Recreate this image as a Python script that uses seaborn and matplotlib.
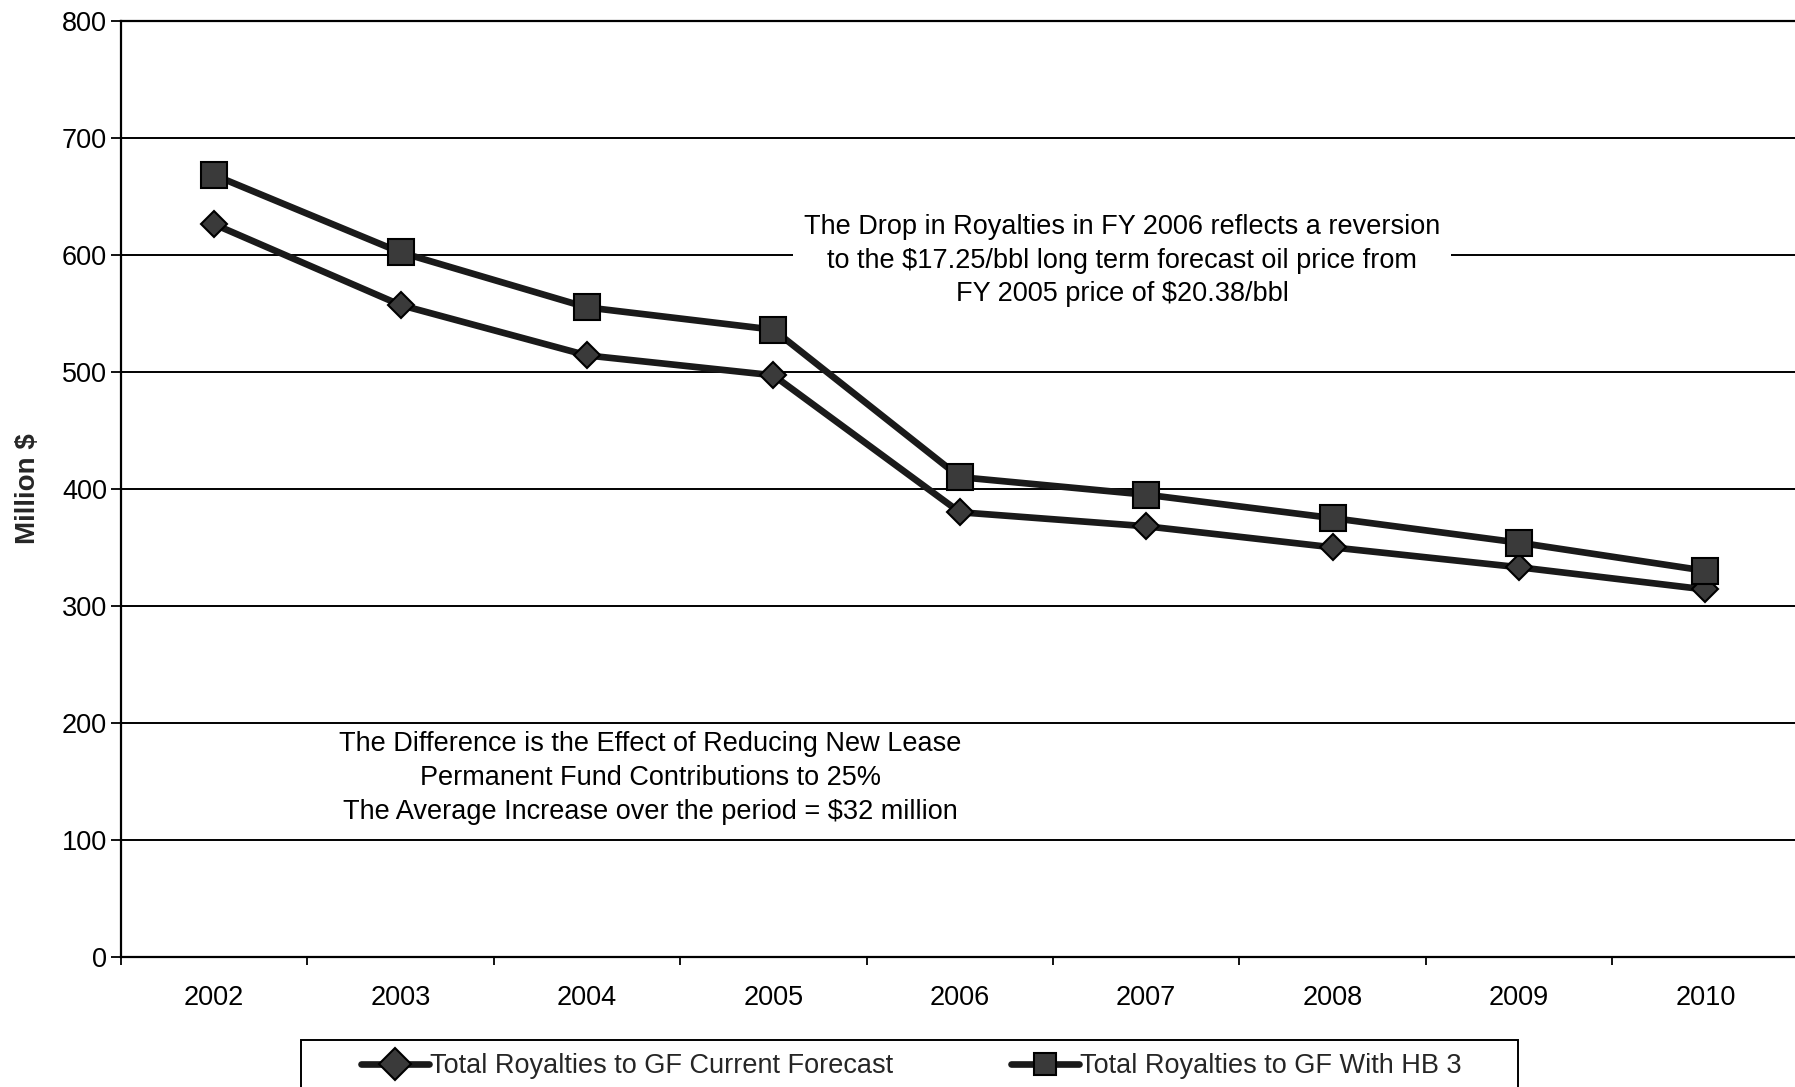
import matplotlib
matplotlib.use("Agg")
import matplotlib.pyplot as plt
import seaborn as sns
import pandas as pd
from matplotlib.patches import Rectangle
from matplotlib.ticker import FixedLocator

# Fiscal years and royalty forecasts (million $)
years = ["2002", "2003", "2004", "2005", "2006", "2007", "2008", "2009", "2010"]
current_forecast = [626, 557, 514, 497, 380, 368, 350, 333, 314]
with_hb3 = [668, 602, 555, 536, 410, 395, 375, 354, 330]
series_names = ["Total Royalties to GF Current Forecast", "Total Royalties to GF With HB 3"]
y_ticks = [0, 100, 200, 300, 400, 500, 600, 700, 800]

df = pd.DataFrame({
    "Year": years * 2,
    "Value": current_forecast + with_hb3,
    "Series": [series_names[0]] * len(years) + [series_names[1]] * len(years),
})

sns.set_theme(style="white")
plt.rcParams["font.family"] = ["Liberation Sans", "DejaVu Sans"]
FS = 19.5

fig = plt.figure(figsize=(17.95, 10.87), dpi=100)
fig.patch.set_facecolor("white")
ax = fig.add_axes([0.0674, 0.1196, 0.9346, 0.8614])
ax.set_facecolor("white")

ax.set_ylim(0, 800)
ax.set_xlim(-0.5, 8.5)
ax.set_yticks(y_ticks)
ax.grid(axis="y", color="black", linewidth=1.4, zorder=0)
ax.set_axisbelow(True)

sns.lineplot(
    data=df, x="Year", y="Value", hue="Series", style="Series",
    palette=["#1a1a1a", "#1a1a1a"],
    markers={series_names[0]: "D", series_names[1]: "s"},
    dashes=False, linewidth=4.8, markersize=16,
    markerfacecolor="#3a3a3a", markeredgecolor="black", markeredgewidth=1.5,
    ax=ax, zorder=3,
)
# square marker a bit larger than the diamond
for line in ax.lines:
    if line.get_marker() == "D":
        line.set_markersize(13.5)
    elif line.get_marker() == "s":
        line.set_markersize(19)

for side in ["left", "bottom", "top"]:
    ax.spines[side].set_visible(True)
    ax.spines[side].set_color("black")
    ax.spines[side].set_linewidth(1.6)
ax.spines["right"].set_visible(False)

ax.set_xlabel("")
ax.set_ylabel("Million $", fontsize=20, fontweight="bold", labelpad=15)

ax.tick_params(axis="y", which="major", direction="out", length=7, width=1.3,
               color="black", labelsize=FS, pad=3, left=True)
ax.tick_params(axis="x", which="major", length=0, labelsize=FS, pad=20)
ax.xaxis.set_minor_locator(FixedLocator([i + 0.5 for i in range(-1, len(years))]))
ax.tick_params(axis="x", which="minor", direction="out", length=6, width=1.3,
               color="black", bottom=True)
for lbl in ax.get_xticklabels() + ax.get_yticklabels():
    lbl.set_color("black")

# notes
ax.text(4.87, 595,
        "The Drop in Royalties in FY 2006 reflects a reversion\n"
        "to the $17.25/bbl long term forecast oil price from\n"
        "FY 2005 price of $20.38/bbl",
        ha="center", va="center", fontsize=FS, linespacing=1.38, color="black",
        bbox=dict(facecolor="white", edgecolor="none", pad=8), zorder=2)
ax.text(2.34, 153,
        "The Difference is the Effect of Reducing New Lease\n"
        "Permanent Fund Contributions to 25%\n"
        "The Average Increase over the period = $32 million",
        ha="center", va="center", fontsize=FS, linespacing=1.38, color="black",
        zorder=2)

# legend along the bottom edge
sns.move_legend(
    ax, "center left", bbox_to_anchor=(361 / 1795, 1 - 1066 / 1087),
    bbox_transform=fig.transFigure, ncol=2, frameon=False, title=None,
    fontsize=FS, handlelength=2.5, handletextpad=0.05, columnspacing=4.35,
    borderpad=0, borderaxespad=0,
)
fig.add_artist(Rectangle((301 / 1795, -0.02), (1518 - 301) / 1795, 0.02 + 1 - 1040 / 1087,
                         transform=fig.transFigure, fill=False, edgecolor="black",
                         linewidth=1.4, clip_on=False))

fig.savefig("out.png", dpi=100, facecolor="white")
